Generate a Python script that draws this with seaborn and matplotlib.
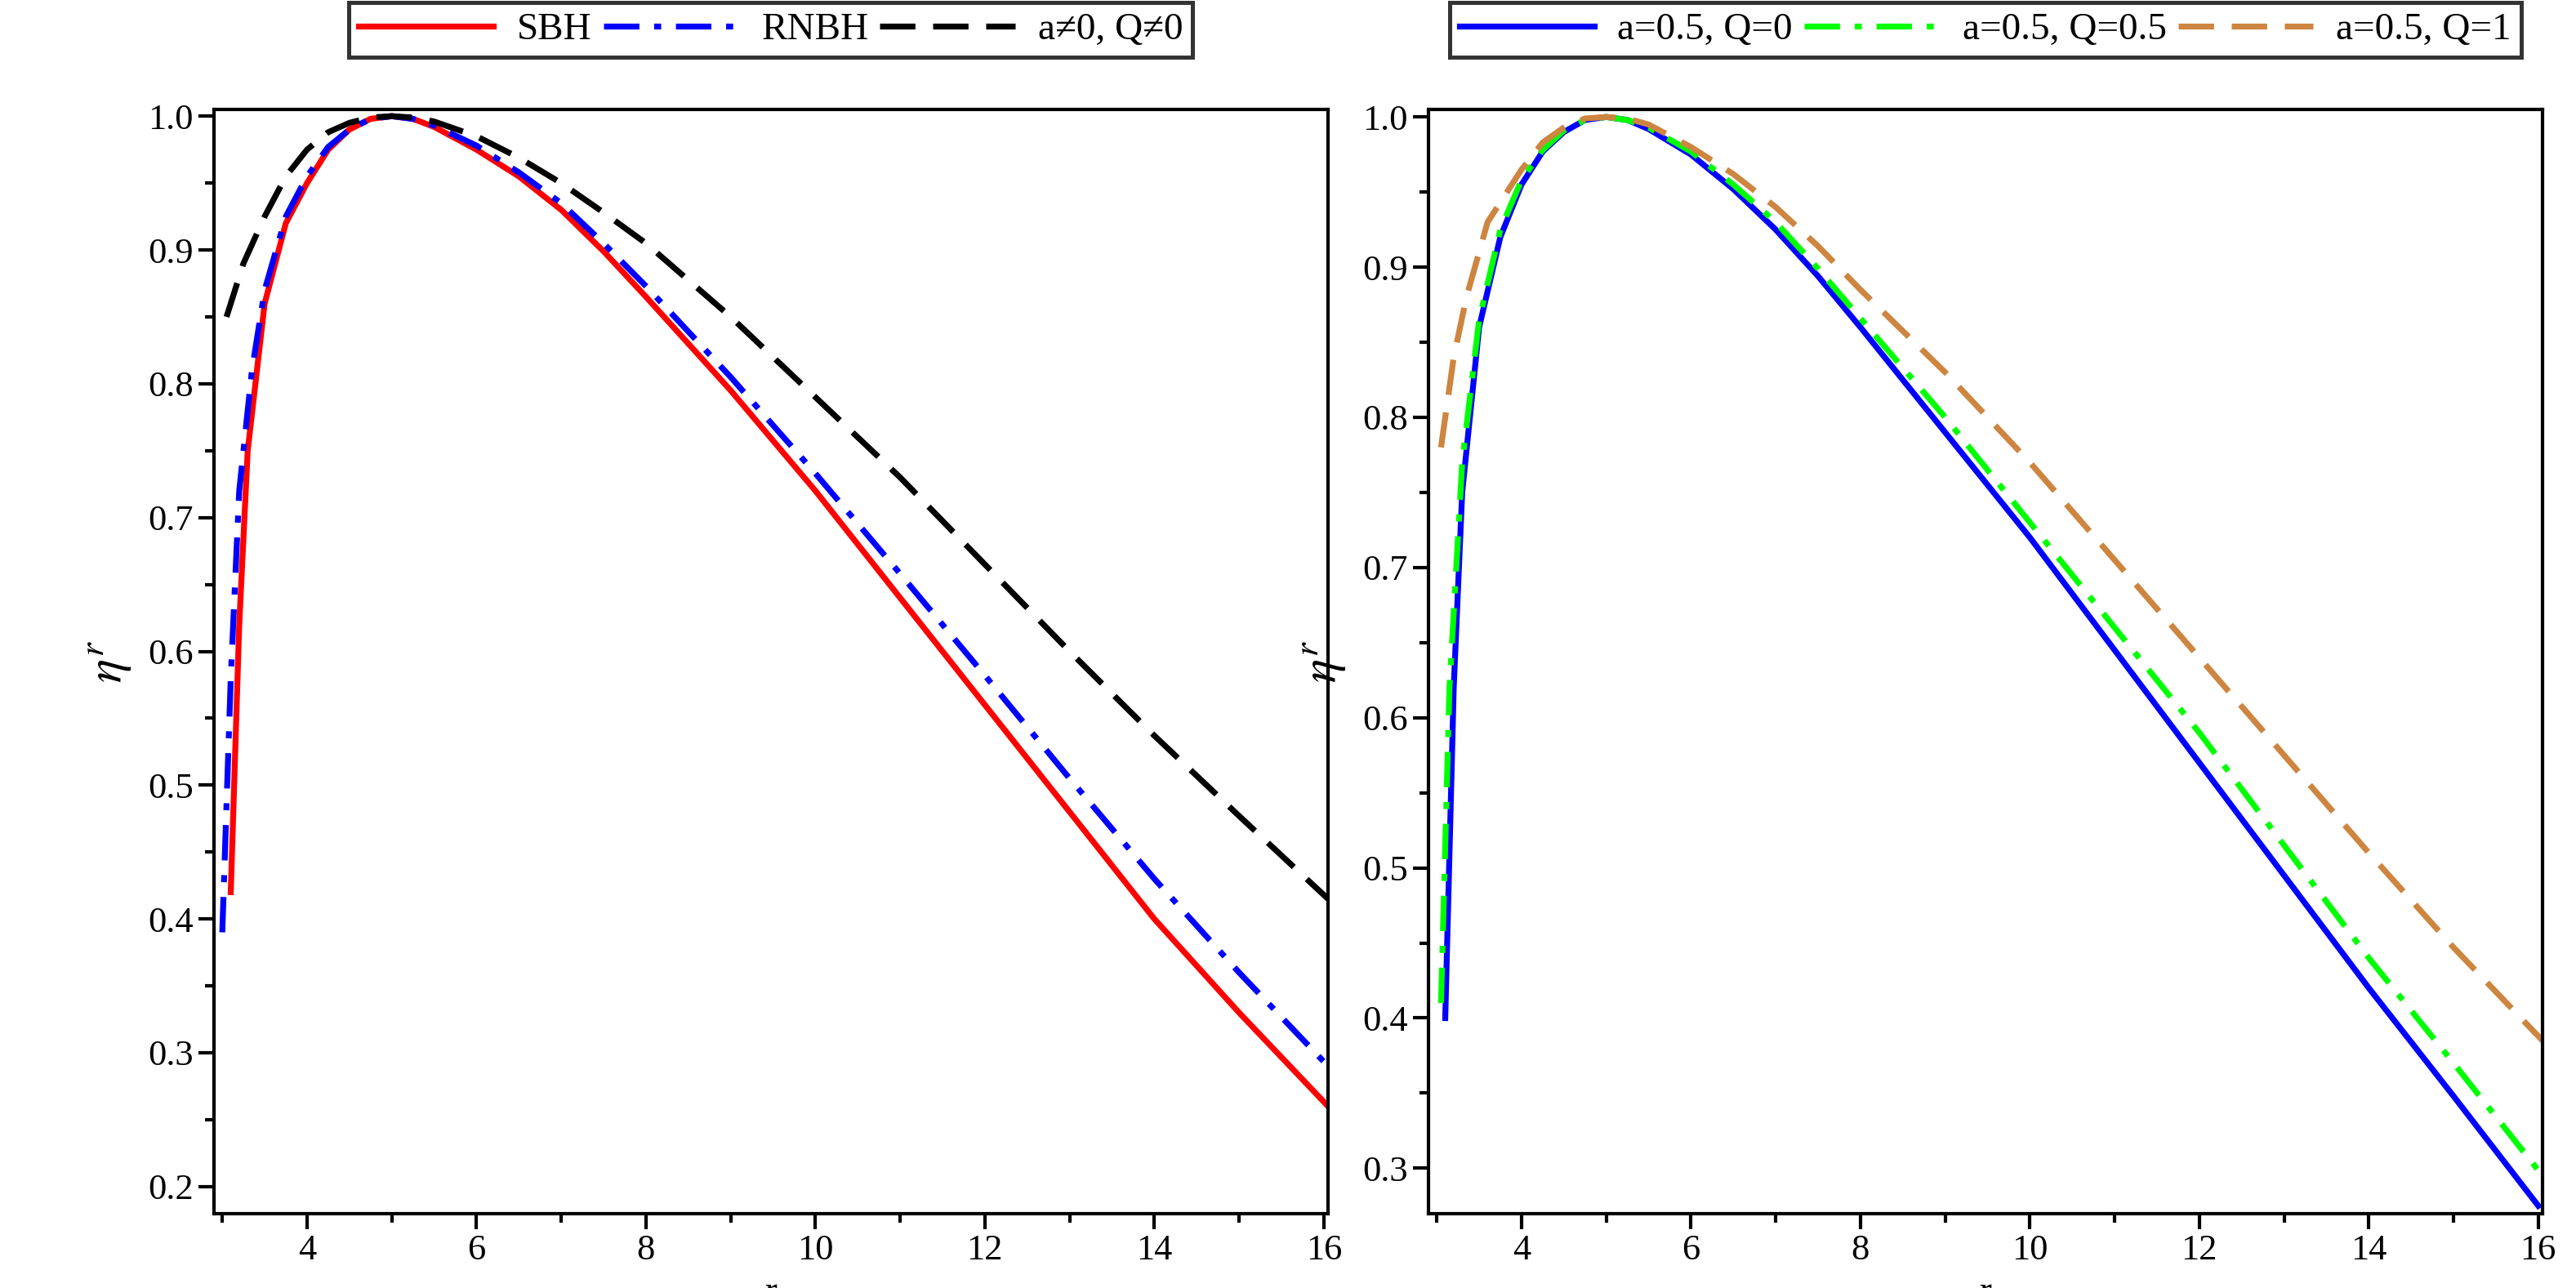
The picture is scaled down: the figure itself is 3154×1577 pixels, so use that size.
import matplotlib
matplotlib.use("Agg")
import matplotlib.pyplot as plt
import seaborn as sns
import pandas as pd
from matplotlib.ticker import MultipleLocator

plt.rcParams["font.family"] = "Liberation Serif"
plt.rcParams["mathtext.fontset"] = "stix"

# panel (i)
r_sbh = [3.1, 3.2, 3.3, 3.5, 3.75, 4.0, 4.25, 4.5, 4.75, 5.0, 5.25, 5.5, 6, 6.5, 7, 7.5, 8, 9, 10, 11, 12, 13, 14, 15, 16.05]
eta_sbh = [0.42, 0.62, 0.75, 0.86, 0.92, 0.95, 0.975, 0.99, 0.998, 1.0, 0.998, 0.992, 0.975, 0.955, 0.93, 0.899, 0.865, 0.795, 0.72, 0.64, 0.56, 0.48, 0.40, 0.33, 0.26]
r_rnbh = [3.0, 3.1, 3.2, 3.35, 3.5, 3.75, 4.0, 4.25, 4.5, 4.75, 5.0, 5.25, 5.5, 6, 6.5, 7, 7.5, 8, 9, 10, 11, 12, 13, 14, 15, 16.05]
eta_rnbh = [0.39, 0.58, 0.72, 0.81, 0.87, 0.925, 0.955, 0.977, 0.99, 0.998, 1.0, 0.998, 0.993, 0.978, 0.958, 0.935, 0.905, 0.873, 0.805, 0.733, 0.658, 0.582, 0.505, 0.43, 0.36, 0.29]
r_kn = [3.05, 3.25, 3.5, 3.75, 4.0, 4.25, 4.5, 4.75, 5.0, 5.25, 5.5, 6, 6.5, 7, 7.5, 8, 9, 10, 11, 12, 13, 14, 15, 16.05]
eta_kn = [0.85, 0.89, 0.925, 0.955, 0.975, 0.988, 0.995, 0.999, 1.0, 0.999, 0.996, 0.985, 0.969, 0.95, 0.928, 0.905, 0.85, 0.79, 0.73, 0.665, 0.60, 0.537, 0.477, 0.415]

# panel (ii)
r_q0 = [3.1, 3.2, 3.3, 3.5, 3.75, 4.0, 4.25, 4.5, 4.75, 5.0, 5.25, 5.5, 6, 6.5, 7, 7.5, 8, 9, 10, 11, 12, 13, 14, 15, 16.0]
eta_q0 = [0.40, 0.62, 0.75, 0.86, 0.92, 0.955, 0.977, 0.99, 0.998, 1.0, 0.998, 0.992, 0.975, 0.952, 0.925, 0.894, 0.86, 0.79, 0.72, 0.645, 0.57, 0.495, 0.42, 0.348, 0.275]
r_q05 = [3.05, 3.15, 3.3, 3.5, 3.75, 4.0, 4.25, 4.5, 4.75, 5.0, 5.25, 5.5, 6, 6.5, 7, 7.5, 8, 9, 10, 11, 12, 13, 14, 15, 16.05]
eta_q05 = [0.41, 0.62, 0.77, 0.865, 0.925, 0.958, 0.978, 0.991, 0.998, 1.0, 0.998, 0.993, 0.977, 0.955, 0.93, 0.899, 0.866, 0.8, 0.73, 0.66, 0.59, 0.515, 0.44, 0.37, 0.295]
r_q1 = [3.05, 3.2, 3.35, 3.6, 4.0, 4.25, 4.5, 4.75, 5.0, 5.25, 5.5, 6, 6.5, 7, 7.5, 8, 9, 10, 11, 12, 13, 14, 15, 16.05]
eta_q1 = [0.78, 0.84, 0.88, 0.93, 0.965, 0.983, 0.993, 0.999, 1.0, 0.999, 0.995, 0.98, 0.962, 0.94, 0.914, 0.885, 0.83, 0.77, 0.705, 0.64, 0.575, 0.51, 0.447, 0.385]

panels = [
    [("SBH", r_sbh, eta_sbh, "#ff0000", "-"),
     ("RNBH", r_rnbh, eta_rnbh, "#0000ff", (0, (6, 2.5, 1.2, 2.5))),
     ("a≠0, Q≠0", r_kn, eta_kn, "#000000", (0, (6, 3)))],
    [("a=0.5, Q=0", r_q0, eta_q0, "#0000ff", "-"),
     ("a=0.5, Q=0.5", r_q05, eta_q05, "#00ff00", (0, (6, 2.5, 1.2, 2.5))),
     ("a=0.5, Q=1", r_q1, eta_q1, "#cd853f", (0, (6, 3)))],
]
ylims = [(0.18, 1.005), (0.27, 1.005)]
captions = ["(i)", "(ii)"]

fig, axes = plt.subplots(1, 2, figsize=(15.77, 7.885), dpi=200)
plt.subplots_adjust(left=0.083, right=0.987, top=0.915, bottom=0.058, wspace=0.09)

for ax, series, yl, cap in zip(axes, panels, ylims, captions):
    for name, rr, ee, col, ls in series:
        df = pd.DataFrame({"r": rr, "eta": ee})
        sns.lineplot(data=df, x="r", y="eta", ax=ax, color=col, lw=2.6,
                     linestyle=ls, label=name, sort=True)
    ax.set_xlim(2.9, 16.05)
    ax.set_ylim(*yl)
    ax.xaxis.set_major_locator(MultipleLocator(2))
    ax.xaxis.set_minor_locator(MultipleLocator(1))
    ax.yaxis.set_major_locator(MultipleLocator(0.1))
    ax.yaxis.set_minor_locator(MultipleLocator(0.05))
    ax.yaxis.set_major_formatter(matplotlib.ticker.FormatStrFormatter("%.1f"))
    ax.tick_params(which="major", length=7, width=1.5, labelsize=16, pad=2)
    ax.tick_params(which="minor", length=4, width=1.5)
    for s in ax.spines.values():
        s.set_linewidth(1.5)
    ax.set_xlabel("r", fontsize=16, labelpad=4)
    ax.text(0.5, -0.085, cap, transform=ax.transAxes, ha="center", va="top", fontsize=16)
    ax.set_ylabel(r"$\eta^r$", fontsize=22, rotation=90, labelpad=6)
    ax.legend(loc="lower center", bbox_to_anchor=(0.5, 1.03), ncol=3, frameon=True,
              fancybox=False, edgecolor="black", fontsize=17, handlelength=3.5,
              columnspacing=0.3, handletextpad=0.6, borderpad=0.25).get_frame().set_linewidth(1.8)

fig.savefig("out.png")
